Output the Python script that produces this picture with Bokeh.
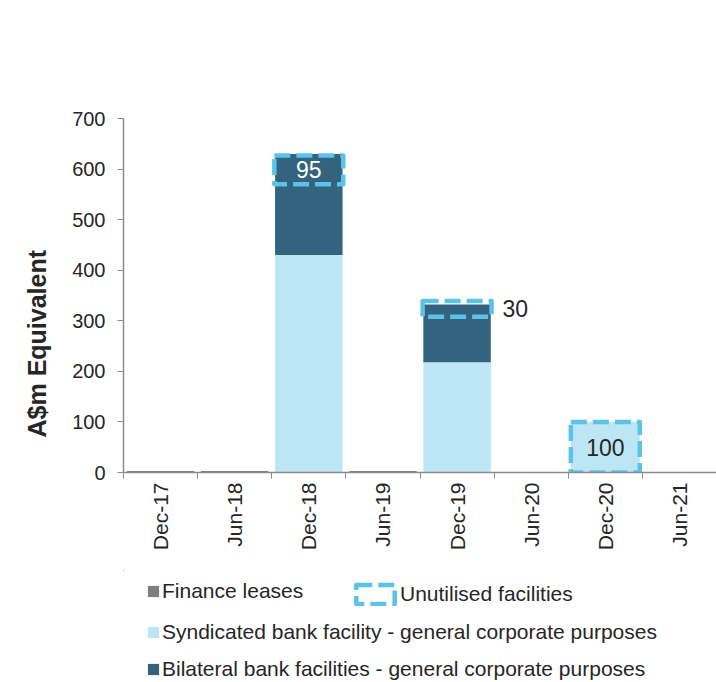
import math
from bokeh.plotting import figure
from bokeh.layouts import column
from bokeh.models import (Range1d, FixedTicker, Legend, LegendItem,
                          ColumnDataSource, Title)
from bokeh.embed import file_html
from bokeh.resources import INLINE
from bokeh.core.properties import value

# ---------------- data ----------------
periods = ["Dec-17", "Jun-18", "Dec-18", "Jun-19", "Dec-19", "Jun-20", "Dec-20", "Jun-21"]
finance_leases = [3, 3, 0, 3, 0, 0, 0, 0]
syndicated = [0, 0, 430, 0, 218, 0, 0, 0]
bilateral = [0, 0, 200, 0, 114, 0, 0, 0]

unutilised_periods = ["Dec-18", "Dec-19", "Dec-20"]
unutilised_values = [95, 30, 100]
unutilised_facility = ["Bilateral", "Bilateral", "Syndicated"]
unutilised_low = [570, 308, 0]
unutilised_high = [627, 339, 100]

y_ticks = [0, 100, 200, 300, 400, 500, 600, 700]

# ---------------- styles ----------------
FONT = "Liberation Sans"
TXT = "#262626"
GREY = "#7F7F7F"
LIGHT = "#BDE6F5"
DARK = "#33637E"
DASH = "#5BC2E8"
AXIS = "#8C8C8C"
DASH_STYLE = dict(line_color=DASH, line_width=4.5, line_dash="16 6", line_join="round")

idx = list(range(len(periods)))
fin_top = finance_leases
syn_bottom = fin_top
syn_top = [a + b for a, b in zip(syn_bottom, syndicated)]
bil_bottom = syn_top
bil_top = [a + b for a, b in zip(bil_bottom, bilateral)]

bars = ColumnDataSource(dict(x=idx, fin_top=fin_top, syn_bottom=syn_bottom,
                             syn_top=syn_top, bil_bottom=bil_bottom, bil_top=bil_top))
ux = [periods.index(q) for q in unutilised_periods]
fill_map = {"Bilateral": "rgba(0,0,0,0)", "Syndicated": LIGHT}
boxes = ColumnDataSource(dict(
    left=[x - 0.465 for x in ux], right=[x + 0.465 for x in ux],
    bottom=unutilised_low, top=unutilised_high,
    fill=[fill_map[f] for f in unutilised_facility]))
BW = 0.91


def draw_series(fig):
    r_fin = fig.vbar(x="x", width=BW, bottom=0, top="fin_top", source=bars,
                     fill_color=GREY, line_color=None)
    r_syn = fig.vbar(x="x", width=BW, bottom="syn_bottom", top="syn_top", source=bars,
                     fill_color=LIGHT, line_color=None)
    r_bil = fig.vbar(x="x", width=BW, bottom="bil_bottom", top="bil_top", source=bars,
                     fill_color=DARK, line_color=None)
    r_unu = fig.quad(left="left", right="right", bottom="bottom", top="top",
                     source=boxes, fill_color="fill", **DASH_STYLE)
    return r_fin, r_syn, r_bil, r_unu


W = 716
MAIN_H = 570
p = figure(width=W, height=MAIN_H, output_backend="svg", toolbar_location=None,
           x_range=Range1d(-0.5, 7.5), y_range=Range1d(0, 700),
           min_border_left=123, min_border_right=0, min_border_top=118,
           min_border_bottom=MAIN_H - 472)
p.outline_line_color = None
p.xgrid.visible = False
p.ygrid.visible = False
draw_series(p)

# value labels
mid = [(a + b) / 2 for a, b in zip(unutilised_low, unutilised_high)]
lab = ColumnDataSource(dict(
    x=[ux[0], ux[1] + 0.465, ux[2]], y=mid, text=[str(v) for v in unutilised_values],
    color=["white", TXT, TXT], align=["center", "left", "center"], xo=[0, 11, 0]))
p.text(x="x", y="y", text="text", source=lab, text_color="color", text_align="align",
       x_offset="xo", text_baseline="middle", text_font=value(FONT),
       text_font_size="23px")

# axes
xa = p.xaxis[0]
xa.ticker = FixedTicker(ticks=idx, minor_ticks=[i - 0.5 for i in idx])
xa.major_label_overrides = {i: lbl for i, lbl in enumerate(periods)}
xa.major_tick_out = 0
xa.major_tick_in = 0
xa.minor_tick_out = 6
xa.minor_tick_in = 0
xa.minor_tick_line_color = AXIS
xa.axis_line_color = AXIS
xa.axis_line_width = 1.5
xa.major_label_orientation = math.pi / 2
xa.major_label_text_font = FONT
xa.major_label_text_font_size = "21px"
xa.major_label_text_color = TXT
xa.major_label_standoff = 4

ya = p.yaxis[0]
ya.ticker = FixedTicker(ticks=y_ticks, minor_ticks=[])
ya.major_tick_out = 6
ya.major_tick_in = 0
ya.major_tick_line_color = AXIS
ya.axis_line_color = AXIS
ya.axis_line_width = 1.5
ya.major_label_text_font = FONT
ya.major_label_text_font_size = "20px"
ya.major_label_text_color = TXT
ya.major_label_standoff = 12

p.add_layout(Title(text="A$m Equivalent", align="left", offset=35, standoff=38,
                   text_font=FONT, text_font_size="25px", text_font_style="bold",
                   text_color=TXT), "left")

# ---------------- legend strip below the chart ----------------
# the same series are attached to a strip whose ranges lie away from every
# value, so only the legend entries show there
LEG_H = 682 - MAIN_H
lf = figure(width=W, height=LEG_H, output_backend="svg", toolbar_location=None,
            x_range=Range1d(20, 21), y_range=Range1d(-20, -10),
            x_axis_type=None, y_axis_type=None,
            min_border_left=0, min_border_right=0, min_border_top=0, min_border_bottom=0)
lf.outline_line_color = None
lf.xgrid.visible = False
lf.ygrid.visible = False
g_fin, g_syn, g_bil, g_unu = draw_series(lf)


def mk_legend(label, rend, loc, gw, gh, standoff):
    lg = Legend(items=[LegendItem(label=label, renderers=[rend], index=0)], location=loc,
                glyph_width=gw, glyph_height=gh, label_standoff=standoff,
                padding=0, margin=0, spacing=0, border_line_color=None,
                background_fill_alpha=0, label_text_font=FONT,
                label_text_font_size="21px", label_text_color=TXT)
    lf.add_layout(lg, "center")


mk_legend("Finance leases", g_fin, (23, 79), 14, 14, 2)
mk_legend("Unutilised facilities", g_unu, (228, 76), 48, 24, 1)
mk_legend("Syndicated bank facility - general corporate purposes", g_syn, (23, 38), 14, 14, 2)
mk_legend("Bilateral bank facilities - general corporate purposes", g_bil, (23, 1), 14, 14, 2)

layout = column(p, lf, spacing=0)
open("out.html", "w").write(file_html(layout, INLINE))
